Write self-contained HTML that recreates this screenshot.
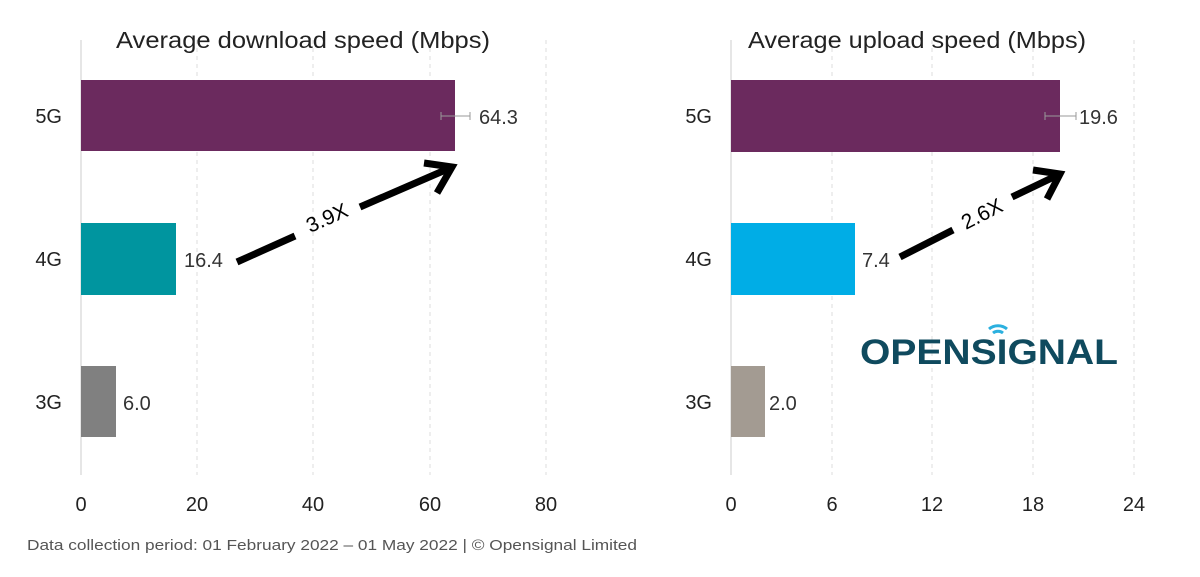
<!DOCTYPE html>
<html><head><meta charset="utf-8"><style>
body{margin:0;background:#fff;}
svg text{font-family:"Liberation Sans",sans-serif;}
</style></head><body>
<svg width="1200" height="572" viewBox="0 0 1200 572" xmlns="http://www.w3.org/2000/svg">
<g stroke="#ddd" stroke-width="1" stroke-dasharray="4,4">
<line x1="197" y1="40" x2="197" y2="475"/><line x1="313" y1="40" x2="313" y2="475"/><line x1="430" y1="40" x2="430" y2="475"/><line x1="546" y1="40" x2="546" y2="475"/>
<line x1="832" y1="40" x2="832" y2="475"/><line x1="932" y1="40" x2="932" y2="475"/><line x1="1033" y1="40" x2="1033" y2="475"/><line x1="1134" y1="40" x2="1134" y2="475"/>
</g>
<line x1="81" y1="40" x2="81" y2="475" stroke="#ccc"/>
<line x1="731" y1="40" x2="731" y2="475" stroke="#ccc"/>
<g font-size="23" fill="#222">
<text x="116" y="48" textLength="374" lengthAdjust="spacingAndGlyphs">Average download speed (Mbps)</text>
<text x="748" y="48" textLength="338" lengthAdjust="spacingAndGlyphs">Average upload speed (Mbps)</text>
</g>
<g font-size="20" fill="#222" text-anchor="end">
<text x="62" y="123">5G</text><text x="62" y="266">4G</text><text x="62" y="409">3G</text>
<text x="712" y="123">5G</text><text x="712" y="266">4G</text><text x="712" y="409">3G</text>
</g>
<rect x="81" y="80" width="374" height="71" fill="#6b2a5e"/>
<rect x="81" y="223" width="95" height="72" fill="#00959f"/>
<rect x="81" y="366" width="35" height="71" fill="#808080"/>
<rect x="731" y="80" width="329" height="72" fill="#6b2a5e"/>
<rect x="731" y="223" width="124" height="72" fill="#00ade6"/>
<rect x="731" y="366" width="34" height="71" fill="#a39b92"/>
<g stroke="#999" stroke-width="1">
<line x1="441" y1="116" x2="470" y2="116"/><line x1="441" y1="112" x2="441" y2="120"/><line x1="470" y1="112" x2="470" y2="120"/>
<line x1="1045" y1="116" x2="1076" y2="116"/><line x1="1045" y1="112" x2="1045" y2="120"/><line x1="1076" y1="112" x2="1076" y2="120"/>
</g>
<g font-size="20" fill="#333">
<text x="479" y="124">64.3</text><text x="184" y="267">16.4</text><text x="123" y="410">6.0</text>
<text x="1079" y="124">19.6</text><text x="862" y="267">7.4</text><text x="769" y="410">2.0</text>
</g>
<g stroke="#000" stroke-width="7" fill="none" stroke-linecap="butt">
<line x1="237" y1="262" x2="295" y2="236"/><line x1="360" y1="207" x2="450" y2="168"/>
<polyline points="424,163 452,167 437,193"/>
<line x1="900" y1="257" x2="953" y2="230"/><line x1="1012" y1="197" x2="1058" y2="175"/>
<polyline points="1033,170 1060,174 1047,199"/>
</g>
<text x="327" y="225" font-size="21" fill="#000" text-anchor="middle" transform="rotate(-24 327 218)">3.9X</text>
<text x="982" y="221" font-size="21" fill="#000" text-anchor="middle" transform="rotate(-27 982 214)">2.6X</text>
<text x="860" y="364" font-size="35" font-weight="bold" fill="#0f4a5e" textLength="258" lengthAdjust="spacingAndGlyphs">OPENSIGNAL</text>
<g stroke="#2bb0df" stroke-width="3" fill="none">
<path d="M993 333 a8 8 0 0 1 10 0"/><path d="M989 329 a14 14 0 0 1 18 0"/>
</g>
<g font-size="20" fill="#222" text-anchor="middle">
<text x="81" y="511">0</text><text x="197" y="511">20</text><text x="313" y="511">40</text><text x="430" y="511">60</text><text x="546" y="511">80</text>
<text x="731" y="511">0</text><text x="832" y="511">6</text><text x="932" y="511">12</text><text x="1033" y="511">18</text><text x="1134" y="511">24</text>
</g>
<text x="27" y="550" font-size="15" fill="#555" textLength="610" lengthAdjust="spacingAndGlyphs">Data collection period: 01 February 2022 – 01 May 2022  |  © Opensignal Limited</text>
</svg>
</body></html>
